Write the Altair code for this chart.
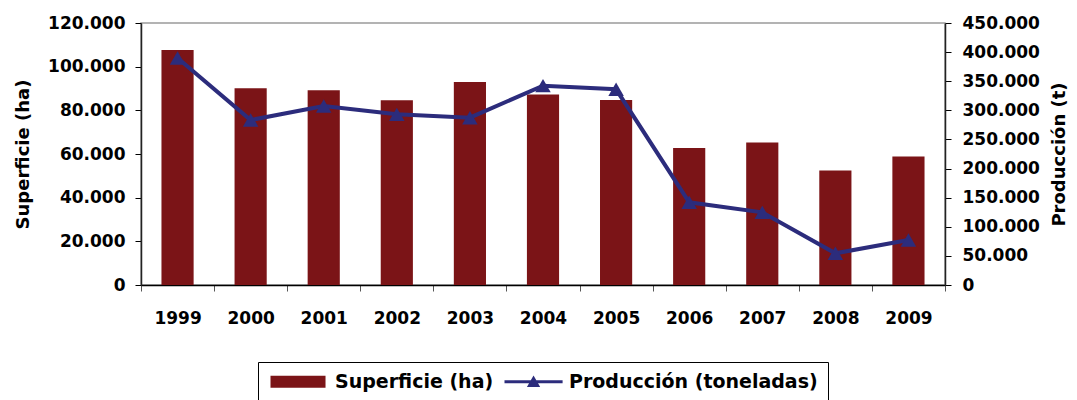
import altair as alt
import pandas as pd

years = ["1999", "2000", "2001", "2002", "2003", "2004", "2005", "2006", "2007", "2008", "2009"]
superficie = [107600, 90100, 89200, 84600, 93000, 87300, 84700, 62700, 65300, 52500, 58900]
produccion = [390000, 283400, 307400, 293100, 287400, 342400, 336100, 142000, 124800, 54400, 77300]
series_names = ["Superficie (ha)", "Producción (toneladas)"]
left_ticks = [0, 20000, 40000, 60000, 80000, 100000, 120000]
right_ticks = [0, 50000, 100000, 150000, 200000, 250000, 300000, 350000, 400000, 450000]

BAR = "#7B1417"
LINE = "#2C2C7C"
FONT = "DejaVu Sans"

df = pd.DataFrame({"year": years, "sup": superficie, "prod": produccion})
leg = pd.DataFrame({"series": series_names})

label_expr = "replace(format(datum.value, ','), ',', '.')"

# legend symbol paths (unit = 7px with symbolSize 196)
RECT_PATH = "M-1,-0.86H6.86V0.86H-1Z"
LINE_PATH = "M-1,-0.22H7.3V0.22H-1Z M3.15,-0.9L4.1,0.75L2.2,0.75Z"

x = alt.X(
    "year:N",
    title=None,
    scale=alt.Scale(paddingInner=0, paddingOuter=0),
    axis=alt.Axis(
        labelAngle=0, tickBand="extent", labelFont=FONT, labelFontSize=17,
        labelFontWeight="bold", labelColor="black", labelPadding=19,
        tickSize=6, tickColor="#555555", domainColor="black", domainWidth=1.5,
        grid=False,
    ),
)

bars = alt.Chart(df).mark_bar(color=BAR, width=alt.RelativeBandSize(0.44)).encode(
    x=x,
    y=alt.Y(
        "sup:Q",
        scale=alt.Scale(domain=[0, 120000]),
        axis=alt.Axis(
            orient="left", values=left_ticks, labelExpr=label_expr, title="Superficie (ha)",
            labelFont=FONT, labelFontSize=17, labelFontWeight="bold", labelColor="black",
            labelPadding=10, tickSize=6, tickColor="black", domainColor="#222222",
            domainWidth=1.5, grid=False, titleFont=FONT, titleFontSize=18,
            titleFontWeight="bold", titleColor="black", titleX=-118, titleY=131,
            titleAngle=270, titleBaseline="middle", titleAlign="center",
        ),
    ),
)

line = alt.Chart(df).mark_line(
    color=LINE, strokeWidth=4,
    point=alt.OverlayMarkDef(shape="triangle-up", filled=True, size=240, color=LINE, opacity=1),
).encode(
    x=x,
    y=alt.Y(
        "prod:Q",
        scale=alt.Scale(domain=[0, 450000]),
        axis=alt.Axis(
            orient="right", values=right_ticks, labelExpr=label_expr, title="Producción (t)",
            labelFont=FONT, labelFontSize=17, labelFontWeight="bold", labelColor="black",
            labelPadding=11, tickSize=6, tickColor="black", domainColor="#222222",
            domainWidth=1.5, grid=False, titleFont=FONT, titleFontSize=18,
            titleFontWeight="bold", titleColor="black", titleX=114, titleY=131,
            titleAngle=270, titleBaseline="middle", titleAlign="center",
        ),
    ),
)

legend_props = dict(
    title=None, orient="none", legendX=117, legendY=339, direction="horizontal",
    labelFont=FONT, labelFontSize=19, labelFontWeight="bold", labelColor="black",
    labelLimit=500, symbolSize=196, symbolStrokeWidth=0, symbolOpacity=1, labelOffset=48,
    columnPadding=8, padding=10, strokeColor="black", fillColor="white",
)

legend_layer = alt.Chart(leg).mark_point(filled=True, opacity=0, size=10).encode(
    color=alt.Color("series:N", scale=alt.Scale(domain=series_names, range=[BAR, LINE]),
                    legend=alt.Legend(**legend_props)),
    shape=alt.Shape("series:N", scale=alt.Scale(domain=series_names, range=[RECT_PATH, LINE_PATH]),
                    legend=alt.Legend(**legend_props)),
)

chart = alt.layer(bars, line, legend_layer).resolve_scale(y="independent").properties(
    width=804, height=262,
    autosize=alt.AutoSizeParams(type="none"),
    padding={"left": 133, "top": 15, "right": 124, "bottom": 115},
    background="white",
).configure_view(stroke="#9a9a9a", strokeWidth=1.5)

chart.save("out.html", embed_options={"renderer": "svg", "actions": False})
